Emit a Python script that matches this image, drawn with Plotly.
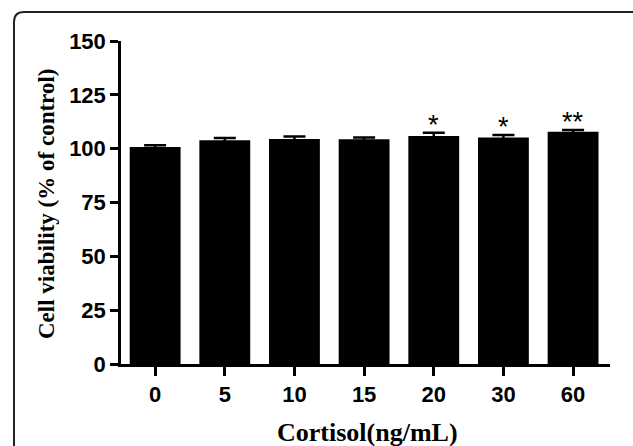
import plotly.graph_objects as go

categories = ["0", "5", "10", "15", "20", "30", "60"]
viability = [100.8, 103.9, 104.5, 104.4, 105.9, 105.2, 107.8]
errors = [0.8, 1.0, 1.1, 0.8, 1.5, 1.1, 0.9]
significance = ["", "", "", "", "*", "*", "**"]
y_ticks = [0, 25, 50, 75, 100, 125, 150]

W, H = 633, 446
L, R, T, B = 121, 23, 41, 82
pw, ph = W - L - R, H - T - B


def px(x):
    return (x - L) / pw


def py(y):
    return (H - B - y) / ph


fig = go.Figure()
fig.add_trace(go.Bar(
    x=categories, y=viability,
    marker=dict(color="black", line=dict(width=0)),
    error_y=dict(type="data", array=errors, color="black", thickness=2.5, width=11, visible=True),
    width=0.73,
))

annotations = []
for i, (v, e, s) in enumerate(zip(viability, errors, significance)):
    if s:
        annotations.append(dict(
            x=i, y=v + e, xref="x", yref="y", text=s, showarrow=False,
            yanchor="bottom", yshift=-9,
            font=dict(family="Liberation Sans, Arial", size=27, color="black"),
        ))

annotations.append(dict(
    x=px(46), y=py(204), xref="paper", yref="paper",
    text="Cell viability (% of control)", textangle=-90, showarrow=False,
    xanchor="center", yanchor="middle",
    font=dict(family="Liberation Serif, Times New Roman", size=23, color="black", weight="bold"),
))
annotations.append(dict(
    x=px(367), y=py(432), xref="paper", yref="paper",
    text="Cortisol(ng/mL)", showarrow=False,
    xanchor="center", yanchor="middle",
    font=dict(family="Liberation Serif, Times New Roman", size=26, color="black", weight="bold"),
))

# rounded frame around the panel (extends beyond right/bottom edges)
x0, y0 = px(14), py(12)
x1, y1 = px(660), py(470)
rx, ry = 10 / pw, 10 / ph
path = (f"M {x0},{y1} L {x0},{y0 - ry} Q {x0},{y0} {x0 + rx},{y0} "
        f"L {x1},{y0}")

fig.update_layout(
    width=W, height=H,
    margin=dict(l=L, r=R, t=T, b=B),
    paper_bgcolor="white", plot_bgcolor="white",
    showlegend=False,
    annotations=annotations,
    shapes=[dict(type="path", path=path, xref="paper", yref="paper",
                 line=dict(color="#222222", width=2))],
    xaxis=dict(
        type="category", range=[-0.49, 6.53],
        showline=True, linecolor="black", linewidth=2.5,
        ticks="outside", ticklen=9, tickwidth=2.5, tickcolor="black",
        showgrid=False, zeroline=False,
        tickfont=dict(family="Liberation Sans, Arial", size=22, color="black", weight="bold"),
    ),
    yaxis=dict(
        range=[0, 150], tickvals=y_ticks,
        showline=True, linecolor="black", linewidth=2.5,
        ticks="outside", ticklen=8, tickwidth=2.5, tickcolor="black",
        showgrid=False, zeroline=False,
        tickfont=dict(family="Liberation Sans, Arial", size=22, color="black", weight="bold"),
    ),
)

fig.write_html("out.html")
